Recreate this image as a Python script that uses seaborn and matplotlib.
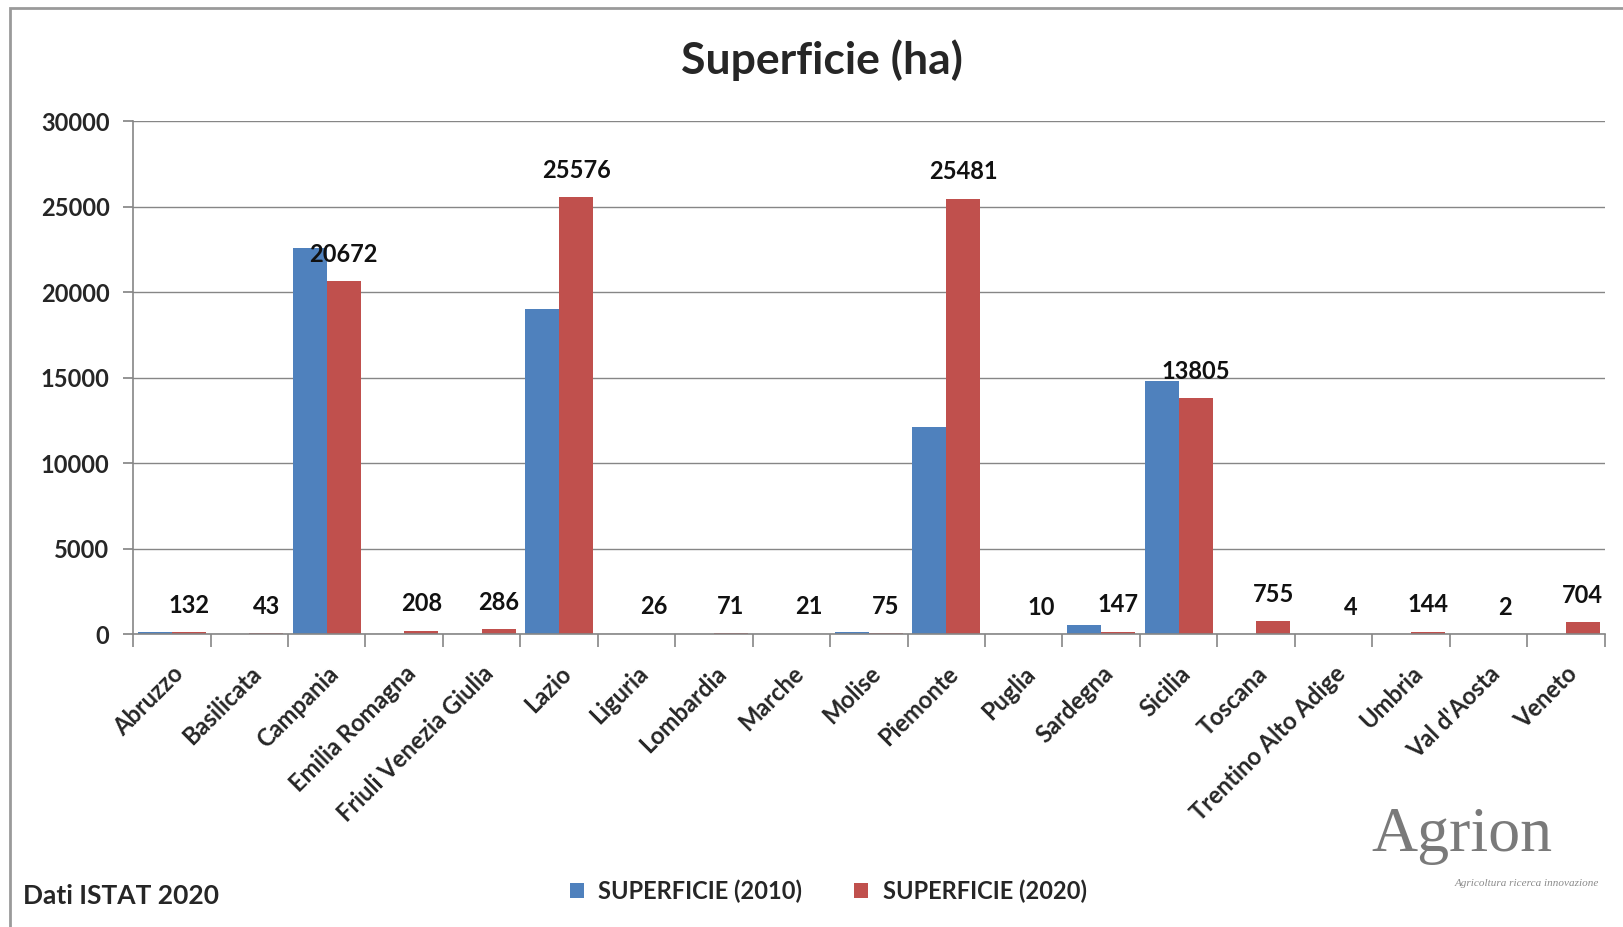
import pandas as pd
import seaborn as sns
import matplotlib.pyplot as plt
from matplotlib.patches import Rectangle

# data
regioni = ['Abruzzo', 'Basilicata', 'Campania', 'Emilia Romagna', 'Friuli Venezia Giulia',
           'Lazio', 'Liguria', 'Lombardia', 'Marche', 'Molise', 'Piemonte', 'Puglia',
           'Sardegna', 'Sicilia', 'Toscana', 'Trentino Alto Adige', 'Umbria',
           "Val d'Aosta", 'Veneto']
sup_2010 = [150, 0, 22600, 0, 0, 19000, 0, 0, 0, 150, 12100, 0, 550, 14800, 0, 0, 0, 0, 0]
sup_2020 = [132, 43, 20672, 208, 286, 25576, 26, 71, 21, 75, 25481, 10, 147, 13805,
            755, 4, 144, 2, 704]
serie = ['SUPERFICIE (2010)', 'SUPERFICIE (2020)']

df = pd.DataFrame({
    'Regione': regioni * 2,
    'Serie': [serie[0]] * len(regioni) + [serie[1]] * len(regioni),
    'ha': sup_2010 + sup_2020,
})

sns.set_theme(style='white')
plt.rcParams['font.family'] = ['Lato', 'DejaVu Sans']

blue = '#4F81BD'
red = '#C0504D'
grey = '#868686'

fig = plt.figure(figsize=(16.24, 9.27), dpi=100)
ax = fig.add_axes([0.082, 0.316, 0.906, 0.553])

sns.barplot(data=df, x='Regione', y='ha', hue='Serie', palette=[blue, red],
            width=0.88, saturation=1, ax=ax, errorbar=None, linewidth=0)

# data labels only for 2020
ax.bar_label(ax.containers[1], labels=[str(v) for v in sup_2020], padding=11,
             fontsize=17, fontweight='bold', color='#111111')

ax.set_ylim(0, 30000)
ax.set_xlim(-0.5, len(regioni) - 0.5)
ax.set_yticks(range(0, 30001, 5000))
ax.yaxis.grid(True, color=grey, linewidth=1)
ax.set_axisbelow(True)
ax.set_xlabel('')
ax.set_ylabel('')

for s in ['top', 'right']:
    ax.spines[s].set_visible(False)
for s in ['left', 'bottom']:
    ax.spines[s].set_color(grey)
    ax.spines[s].set_linewidth(1.2)

ax.tick_params(axis='y', left=True, length=7, color=grey, labelsize=17, pad=10)
for lab in ax.get_yticklabels():
    lab.set_fontweight('bold')

ax.set_xticks(range(len(regioni)))
ax.set_xticklabels(regioni, rotation=45, ha='right', rotation_mode='anchor',
                   fontsize=17, fontweight='bold')
ax.tick_params(axis='x', bottom=True, length=0, pad=20)
ax.set_xticks([i - 0.5 for i in range(len(regioni) + 1)], minor=True)
ax.tick_params(axis='x', which='minor', bottom=True, length=9, color=grey, width=1.2)

fig.text(0.506, 0.935, 'Superficie (ha)', fontsize=32, fontweight='bold',
         ha='center', va='center')

handles, labels = ax.get_legend_handles_labels()
ax.get_legend().remove()
fig.legend(handles, labels, loc='center', bbox_to_anchor=(0.51, 0.039), ncol=2,
           frameon=False, handlelength=0.6, handleheight=0.6, columnspacing=2.2,
           handletextpad=0.6, prop={'size': 17, 'weight': 'bold'})

fig.text(0.014, 0.033, 'Dati ISTAT 2020', fontsize=19, fontweight='bold', va='center')

# logo
fig.text(0.90, 0.098, 'Agrion', fontsize=46, color='#7a7a7a', ha='center', va='center',
         family=['Liberation Serif', 'DejaVu Serif'])
fig.text(0.94, 0.047, 'Agricoltura ricerca innovazione', fontsize=8, color='#8a8a8a',
         ha='center', va='center', style='italic', family=['Liberation Serif', 'DejaVu Serif'])

# outer frame
fig.patches.append(Rectangle((0.006, -0.05), 1.2, 1.041, transform=fig.transFigure,
                             fill=False, edgecolor='#9a9a9a', linewidth=2))

fig.savefig('out.png', dpi=100, facecolor='white')
